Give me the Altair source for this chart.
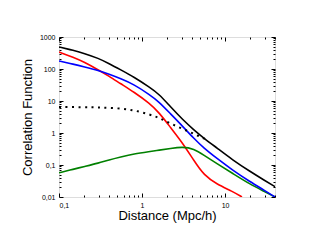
import altair as alt
import pandas as pd

# ---- data ----
x_grid = [0.1, 0.15, 0.2, 0.3, 0.4, 0.55, 0.8, 1.23, 1.6, 2.2, 3.1, 4.2, 5.6, 8, 12.3, 20, 30, 40]
y_black = [490, 380, 310, 215, 148, 95, 56, 27, 16.6, 6.6, 2.6, 1.26, 0.68, 0.34, 0.145, 0.063, 0.033, 0.021]
y_blue = [178, 141, 117, 89, 69, 50, 33, 15.8, 9.5, 4.0, 1.6, 0.68, 0.33, 0.16, 0.069, 0.030, 0.016, 0.01]
y_green = [0.057, 0.074, 0.089, 0.115, 0.145, 0.178, 0.224, 0.263, 0.29, 0.33, 0.37, 0.32, 0.2, 0.11, 0.055, 0.025, 0.0148, 0.01]

x_red = [0.1, 0.15, 0.2, 0.3, 0.4, 0.55, 0.8, 1.23, 1.6, 2.2, 3.1, 4.2, 5.6, 8, 12.3, 16]
y_red = [340, 230, 166, 93, 60, 35, 19, 8.5, 4.4, 1.5, 0.48, 0.14, 0.047, 0.025, 0.015, 0.01]

x_dot = [0.1, 0.2, 0.3, 0.5, 0.8, 1.23, 1.6, 2.1, 2.8, 3.7, 4.8, 6.2]
y_dot = [6.5, 6.4, 6.3, 6.0, 5.2, 3.8, 3.0, 2.1, 1.5, 1.1, 0.8, 0.6]

series_names = ["red", "green", "blue", "black"]
series_colors = ["#ff0000", "#008000", "#0000ff", "#000000"]

x_label_values = [0.1, 1, 10]
y_label_values = [0.01, 0.1, 1, 10, 100, 1000]
x_decades = [0.1, 1, 10]
y_decades = [0.01, 0.1, 1, 10, 100]
multipliers = [1, 2, 3, 4, 5, 6, 7, 8, 9]

x_ticks = [round(d * m, 6) for d in x_decades for m in multipliers if d * m <= 40]
y_ticks = [round(d * m, 6) for d in y_decades for m in multipliers] + [1000]

# ---- tables ----
rows = []
for name, xs, ys in [("red", x_red, y_red), ("green", x_grid, y_green),
                     ("blue", x_grid, y_blue), ("black", x_grid, y_black)]:
    for i, (a, b) in enumerate(zip(xs, ys)):
        rows.append({"series": name, "x": a, "y": b, "order": i})
df = pd.DataFrame(rows)
df_dot = pd.DataFrame({"x": x_dot, "y": y_dot})

FONT = "Liberation Sans"
xscale = alt.Scale(type="log", domain=[0.1, 40], nice=False)
yscale = alt.Scale(type="log", domain=[0.01, 1000], nice=False)

label_expr = "replace(format(datum.value, '~g'), '.', ',')"
major_test = "abs(log(datum.value)/LN10 - round(log(datum.value)/LN10)) < 0.001"
tick_size = {"condition": {"test": major_test, "value": 4}, "value": 2}

x_main_axis = alt.Axis(orient="bottom", values=x_label_values, labelExpr=label_expr,
                       ticks=False, tickSize=0, domain=False, grid=False,
                       labelFont=FONT, labelFontSize=7, labelColor="black", labelPadding=4,
                       title="Distance (Mpc/h)", titleFont=FONT, titleFontSize=13,
                       titleFontWeight="normal", titleColor="black", titlePadding=1)
y_main_axis = alt.Axis(orient="left", values=y_label_values, labelExpr=label_expr,
                       ticks=False, tickSize=0, domain=False, grid=False,
                       labelFont=FONT, labelFontSize=7, labelColor="black", labelPadding=4,
                       title="Correlation Function", titleFont=FONT, titleFontSize=13,
                       titleFontWeight="normal", titleColor="black", titlePadding=5)

solid = alt.Chart(df).mark_line(strokeWidth=1.6, interpolate="basis", clip=True).encode(
    x=alt.X("x:Q", scale=xscale, axis=x_main_axis),
    y=alt.Y("y:Q", scale=yscale, axis=y_main_axis),
    color=alt.Color("series:N", scale=alt.Scale(domain=series_names, range=series_colors), legend=None),
    order="order:Q",
)

dotted = alt.Chart(df_dot).mark_line(color="black", strokeWidth=2, strokeDash=[2, 4.5],
                                     interpolate="basis", clip=True).encode(
    x=alt.X("x:Q", scale=xscale, axis=None),
    y=alt.Y("y:Q", scale=yscale, axis=None),
)


def tick_axis(orient, values, offset):
    return alt.Axis(orient=orient, values=values, offset=offset, labels=False, domain=False,
                    grid=False, ticks=True, tickSize=tick_size, tickColor="black",
                    tickWidth=1, title=None)


# inward ticks on all four sides
ticks_a = alt.Chart(df_dot).mark_line(opacity=0).encode(
    x=alt.X("x:Q", scale=xscale, axis=tick_axis("bottom", x_ticks, -160)),  # top edge
    y=alt.Y("y:Q", scale=yscale, axis=tick_axis("left", y_ticks, -216)),    # right edge
)
ticks_b = alt.Chart(df_dot).mark_line(opacity=0).encode(
    x=alt.X("x:Q", scale=xscale, axis=tick_axis("top", x_ticks, -160)),     # bottom edge
    y=alt.Y("y:Q", scale=yscale, axis=tick_axis("right", y_ticks, -216)),   # left edge
)

chart = alt.layer(solid, dotted, ticks_a, ticks_b).resolve_axis(
    x="independent", y="independent"
).properties(
    width=216, height=160,
    autosize=alt.AutoSizeParams(type="none"),
    padding={"left": 51, "top": 29, "right": 20, "bottom": 30},
).configure_view(stroke="black", strokeWidth=1).configure(background="white")

chart.save("out.html", embed_options={"renderer": "svg", "actions": False})
